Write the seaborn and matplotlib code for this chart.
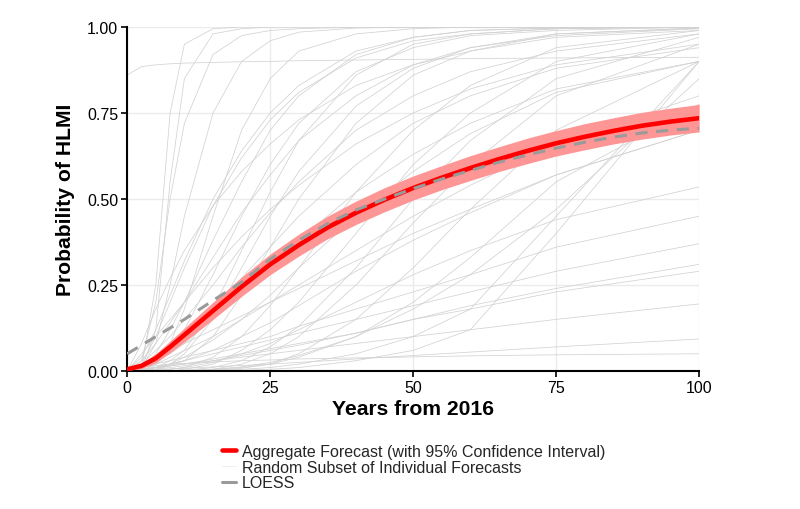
import numpy as np
import pandas as pd
import seaborn as sns
import matplotlib
matplotlib.use("Agg")
import matplotlib.pyplot as plt
from matplotlib.lines import Line2D

years = [0, 2.5, 5, 7.5, 10, 15, 20, 25, 30, 40, 50, 60, 75, 100]

individual_forecasts = [
    [0, 0.01, 0.25, 0.75, 0.95, 0.995, 1, 1, 1, 1, 1, 1, 1, 1],
    [0, 0.005, 0.12, 0.55, 0.85, 0.98, 0.995, 1, 1, 1, 1, 1, 1, 1],
    [0, 0.03, 0.2, 0.5, 0.72, 0.92, 0.975, 0.99, 0.995, 1, 1, 1, 1, 1],
    [0, 0.01, 0.08, 0.25, 0.45, 0.75, 0.9, 0.96, 0.985, 0.997, 1, 1, 1, 1],
    [0.86, 0.885, 0.89, 0.893, 0.895, 0.897, 0.899, 0.9, 0.902, 0.904, 0.906, 0.908, 0.91, 0.912],
    [0, 0, 0.02, 0.08, 0.18, 0.45, 0.7, 0.85, 0.93, 0.98, 0.995, 1, 1, 1],
    [0, 0.01, 0.05, 0.12, 0.2, 0.38, 0.55, 0.7, 0.8, 0.92, 0.97, 0.99, 0.997, 1],
    [0, 0.03, 0.08, 0.14, 0.2, 0.33, 0.46, 0.57, 0.67, 0.8, 0.89, 0.94, 0.975, 0.995],
    [0, 0, 0.01, 0.03, 0.06, 0.18, 0.35, 0.52, 0.67, 0.86, 0.95, 0.98, 0.995, 1],
    [0, 0.02, 0.06, 0.1, 0.15, 0.25, 0.36, 0.46, 0.55, 0.7, 0.8, 0.87, 0.93, 0.98],
    [0, 0.05, 0.1, 0.15, 0.2, 0.3, 0.39, 0.47, 0.54, 0.66, 0.75, 0.82, 0.89, 0.95],
    [0, 0, 0.005, 0.015, 0.03, 0.1, 0.22, 0.36, 0.5, 0.72, 0.86, 0.93, 0.98, 0.997],
    [0, 0, 0, 0.005, 0.01, 0.04, 0.1, 0.19, 0.3, 0.52, 0.7, 0.83, 0.94, 0.99],
    [0, 0.01, 0.03, 0.05, 0.08, 0.15, 0.22, 0.3, 0.38, 0.52, 0.63, 0.72, 0.82, 0.9],
    [0, 0, 0, 0, 0.005, 0.02, 0.06, 0.12, 0.2, 0.4, 0.6, 0.75, 0.9, 0.98],
    [0, 0, 0, 0, 0, 0.005, 0.02, 0.05, 0.1, 0.25, 0.43, 0.6, 0.8, 0.95],
    [0, 0, 0, 0, 0, 0.002, 0.008, 0.02, 0.05, 0.15, 0.3, 0.47, 0.7, 0.9],
    [0, 0.01, 0.02, 0.04, 0.06, 0.1, 0.15, 0.2, 0.25, 0.35, 0.45, 0.54, 0.66, 0.8],
    [0, 0.02, 0.04, 0.06, 0.08, 0.12, 0.16, 0.2, 0.24, 0.32, 0.4, 0.47, 0.57, 0.7],
    [0, 0.01, 0.02, 0.03, 0.04, 0.06, 0.08, 0.1, 0.13, 0.18, 0.23, 0.28, 0.36, 0.45],
    [0, 0, 0, 0.005, 0.01, 0.025, 0.05, 0.08, 0.12, 0.2, 0.28, 0.35, 0.44, 0.535],
    [0, 0.005, 0.01, 0.02, 0.03, 0.05, 0.07, 0.09, 0.11, 0.15, 0.19, 0.23, 0.29, 0.37],
    [0, 0.005, 0.01, 0.015, 0.02, 0.035, 0.05, 0.065, 0.08, 0.11, 0.15, 0.19, 0.24, 0.31],
    [0, 0, 0.005, 0.01, 0.015, 0.03, 0.045, 0.06, 0.075, 0.11, 0.15, 0.18, 0.23, 0.29],
    [0, 0.005, 0.01, 0.015, 0.02, 0.03, 0.04, 0.05, 0.06, 0.08, 0.1, 0.12, 0.15, 0.195],
    [0, 0.002, 0.004, 0.006, 0.008, 0.012, 0.016, 0.02, 0.025, 0.035, 0.045, 0.055, 0.07, 0.093],
    [0, 0.01, 0.015, 0.02, 0.022, 0.026, 0.03, 0.032, 0.035, 0.038, 0.041, 0.044, 0.047, 0.05],
    [0, 0, 0, 0, 0, 0, 0.002, 0.005, 0.01, 0.03, 0.06, 0.12, 0.4, 0.9],
    [0, 0, 0, 0, 0, 0.002, 0.005, 0.01, 0.02, 0.05, 0.1, 0.18, 0.45, 0.9],
    [0, 0, 0, 0, 0, 0.005, 0.01, 0.02, 0.04, 0.1, 0.2, 0.33, 0.55, 0.776],
    [0, 0.02, 0.1, 0.2, 0.3, 0.48, 0.62, 0.73, 0.81, 0.91, 0.96, 0.98, 0.995, 1],
    [0, 0.04, 0.12, 0.22, 0.32, 0.5, 0.64, 0.75, 0.83, 0.93, 0.97, 0.99, 0.997, 1],
    [0, 0, 0.02, 0.06, 0.12, 0.28, 0.45, 0.6, 0.72, 0.87, 0.94, 0.975, 0.99, 1],
    [0, 0.01, 0.03, 0.06, 0.1, 0.18, 0.27, 0.36, 0.45, 0.6, 0.72, 0.8, 0.88, 0.94],
    [0, 0, 0.01, 0.02, 0.04, 0.09, 0.15, 0.22, 0.3, 0.45, 0.58, 0.69, 0.81, 0.9],
    [0, 0, 0, 0, 0.002, 0.01, 0.03, 0.07, 0.13, 0.3, 0.5, 0.67, 0.85, 0.97],
    [0, 0.08, 0.18, 0.27, 0.35, 0.48, 0.58, 0.66, 0.73, 0.83, 0.89, 0.93, 0.97, 0.99],
    [0, 0, 0, 0, 0.001, 0.005, 0.012, 0.025, 0.045, 0.1, 0.18, 0.28, 0.47, 0.85],
    [0, 0.005, 0.01, 0.02, 0.03, 0.06, 0.1, 0.14, 0.19, 0.29, 0.38, 0.46, 0.57, 0.7],
    [0, 0, 0.005, 0.02, 0.05, 0.15, 0.3, 0.45, 0.58, 0.77, 0.88, 0.94, 0.98, 0.997],
]

# aggregate forecast with its 95% interval
agg_years = [0, 2.5, 5, 7.5, 10, 15, 20, 25, 30, 35, 40, 45, 50, 55, 60, 65, 70, 75,
             80, 85, 90, 95, 100]
agg_mean = [0.005, 0.015, 0.037, 0.07, 0.105, 0.175, 0.245, 0.31, 0.366, 0.417, 0.46,
            0.498, 0.532, 0.562, 0.59, 0.616, 0.64, 0.662, 0.681, 0.698, 0.713, 0.725, 0.735]
agg_lower = [0.002, 0.007, 0.024, 0.053, 0.085, 0.15, 0.217, 0.28, 0.334, 0.384, 0.426,
             0.463, 0.497, 0.527, 0.554, 0.58, 0.603, 0.625, 0.643, 0.66, 0.674, 0.686, 0.695]
agg_upper = [0.008, 0.023, 0.05, 0.087, 0.125, 0.2, 0.273, 0.34, 0.398, 0.45, 0.494,
             0.533, 0.567, 0.597, 0.626, 0.652, 0.677, 0.699, 0.719, 0.736, 0.752, 0.764, 0.775]

loess_years = [0, 5, 10, 15, 20, 25, 30, 35, 40, 45, 50, 55, 60, 65, 70, 75, 80, 85,
               90, 95, 100]
loess_prob = [0.05, 0.10, 0.15, 0.205, 0.258, 0.325, 0.38, 0.428, 0.468, 0.5, 0.53,
              0.558, 0.583, 0.607, 0.628, 0.648, 0.665, 0.68, 0.692, 0.7, 0.706]

x_ticks = [0, 25, 50, 75, 100]
y_ticks = [0, 0.25, 0.5, 0.75, 1.0]

sns.set_theme(style="white")
plt.rcParams['font.family'] = ['Liberation Sans', 'DejaVu Sans']

rows = []
for i, vals in enumerate(individual_forecasts):
    for yr, p in zip(years, vals):
        rows.append({'id': i, 'year': yr, 'prob': p})
indiv = pd.DataFrame(rows)

fig = plt.figure(figsize=(8, 5.1), dpi=100)
ax = fig.add_axes([0.159, 0.2706, 0.715, 0.6745])

ax.grid(True, color='#ebebeb', lw=1.0)
ax.set_axisbelow(True)

sns.lineplot(data=indiv, x='year', y='prob', units='id', estimator=None,
             color='#d2d2d2', lw=0.55, ax=ax)

ax.fill_between(agg_years, agg_lower, agg_upper, color='#ff9696', lw=0, zorder=3)
sns.lineplot(x=agg_years, y=agg_mean, color='#ff0000', lw=3.3, ax=ax, zorder=4)
sns.lineplot(x=loess_years, y=loess_prob, color='#9a9a9a', lw=2.2, ax=ax, zorder=5,
             dashes=False, linestyle=(0, (4, 2.8)))

ax.set_xlim(0, 100)
ax.set_ylim(0, 1)
ax.set_xticks(x_ticks)
ax.set_yticks(y_ticks)
ax.set_xticklabels([str(t) for t in x_ticks])
ax.set_yticklabels([f'{t:.2f}' for t in y_ticks])
ax.tick_params(axis='both', labelsize=11.5, colors='black', length=4.5, width=1.2,
               direction='out', bottom=True, left=True, pad=2)
for side in ['top', 'right']:
    ax.spines[side].set_visible(False)
for side in ['left', 'bottom']:
    ax.spines[side].set_color('black')
    ax.spines[side].set_linewidth(1.5)

ax.set_xlabel('Years from 2016', fontsize=15.2, fontweight='bold', color='black', labelpad=3)
ax.set_ylabel('Probability of HLMI', fontsize=15.2, fontweight='bold', color='black', labelpad=9)

handles = [
    Line2D([], [], color='#ff0000', lw=3.3),
    Line2D([], [], color='#ececec', lw=0.6),
    Line2D([], [], color='#9a9a9a', lw=2.2),
]
labels = ['Aggregate Forecast (with 95% Confidence Interval)',
          'Random Subset of Individual Forecasts',
          'LOESS']
fig.legend(handles, labels, loc='upper center', bbox_to_anchor=(0.517, 0.14),
           frameon=False, fontsize=11.5, handlelength=0.85, handletextpad=0.4,
           labelspacing=0.04, borderaxespad=0)

fig.savefig('out.png', dpi=100)
